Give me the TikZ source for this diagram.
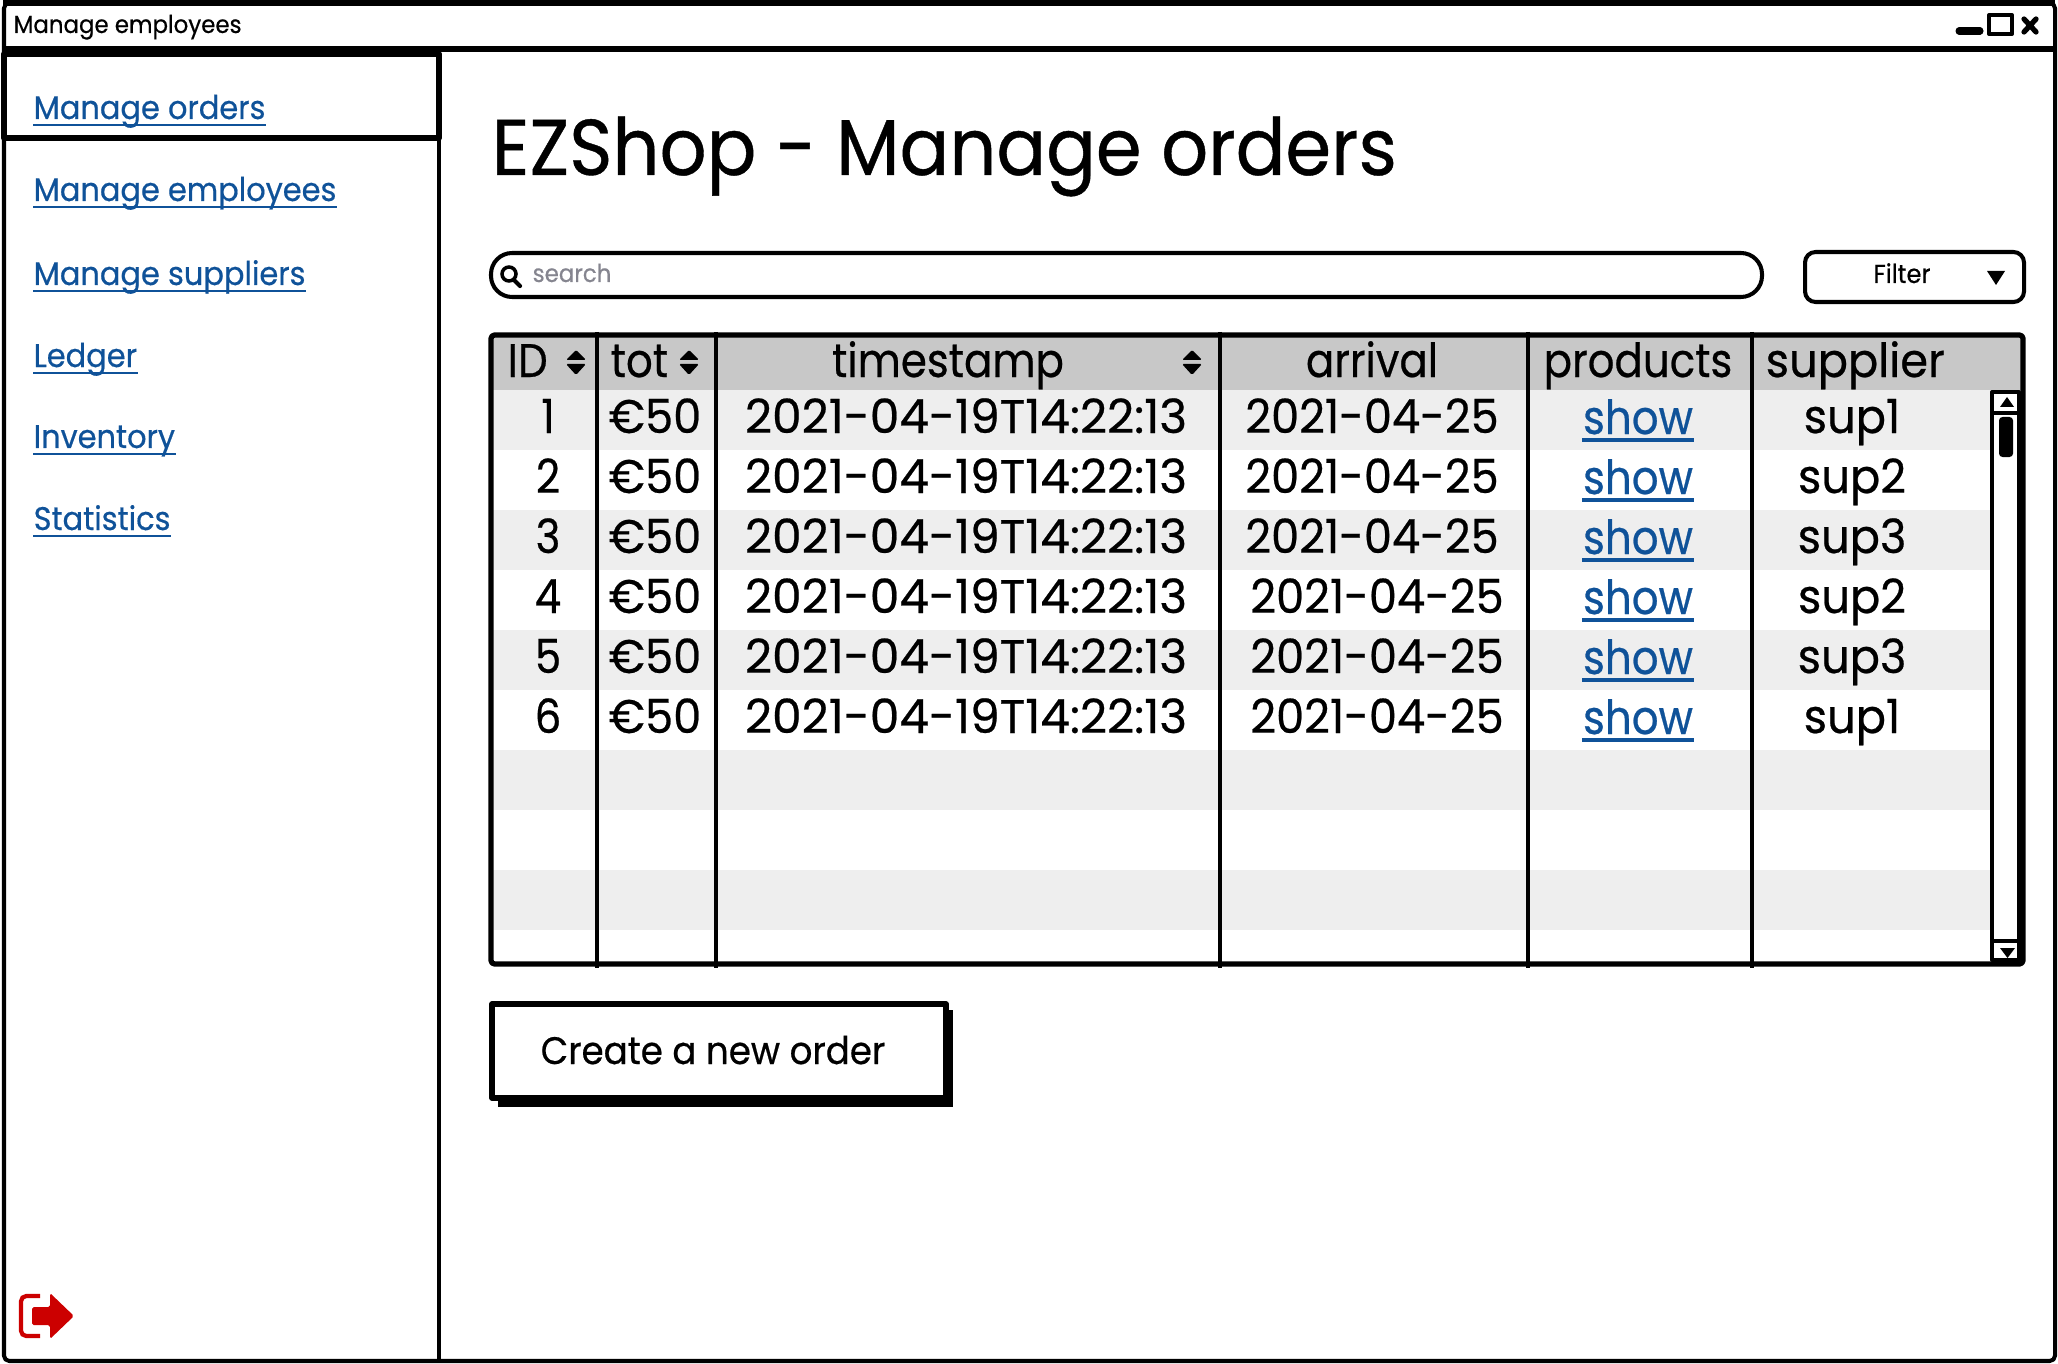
\documentclass[tikz,border=0pt]{standalone}
\usepackage{fontspec}
\usepackage{xcolor}
\setmainfont{Poppins}
\newfontfamily\uifont[FakeStretch=0.93,FakeBold=0.5]{Poppins}
\newfontfamily\cellfont[FakeStretch=0.89,FakeBold=0.5]{Poppins}
\newfontfamily\datefont[FakeStretch=0.95,FakeBold=0.5]{Poppins}
\newfontfamily\stampfont[FakeStretch=1.0,FakeBold=0.5]{Poppins}
\definecolor{linkblue}{HTML}{0F5299}
\definecolor{headg}{HTML}{C8C8C8}
\definecolor{rowg}{HTML}{EEEEEE}
\definecolor{searchg}{HTML}{85858F}
\definecolor{exitred}{HTML}{CC0000}
\tikzset{
  wire/.style={draw=black, line width=1.15pt, line join=round},
  heavy/.style={draw=black, line width=1.5pt, line join=round},
  lbl/.style={inner sep=0pt, anchor=base, text=black},
  cell/.style={lbl, font=\cellfont\fontsize{13.4}{16}\selectfont},
  datecell/.style={lbl, font=\datefont\fontsize{13.4}{16}\selectfont},
  stampcell/.style={lbl, font=\stampfont\fontsize{13.4}{16}\selectfont},
  lnk/.style={lbl, anchor=base west, text=linkblue, font=\uifont\fontsize{9.3}{11}\selectfont},
  showlnk/.style={cell, text=linkblue},
  under/.style={draw=linkblue, line width=0.7pt},
}
\begin{document}
\begin{tikzpicture}[x=0.01cm, y=-0.01cm]
  \useasboundingbox (0,0) rectangle (2058,1364);
  % window
  \fill[white] (0,0) rectangle (2058,1364);
  \draw[wire, rounded corners=1.5pt] (4,3) rectangle (2055,1361);
  \draw[heavy, line width=2pt] (3,2) -- (2055,2);
  \draw[heavy, line width=1.7pt] (3,49) -- (2055,49);
  \node[lbl, anchor=base west, font=\uifont\fontsize{7}{8}\selectfont] (wintitle) at (13,33) {Manage employees};
  \draw[line width=2pt, line cap=round] (1959,31) -- (1980,31);
  \draw[wire] (1989,15) rectangle (2012,34);
  \draw[line width=1.5pt, line cap=round] (2024,19) -- (2036,32) (2036,19) -- (2024,32);
  % side menu
  \draw[wire] (439,49) -- (439,1361);
  \draw[heavy] (4,54) rectangle (439,138);
  \foreach \y/\t/\n in {119/Manage orders/orders, 201/Manage employees/employees, 285/Manage suppliers/suppliers, 367/Ledger/ledger, 448/Inventory/inventory, 530/Statistics/statistics}{
    \node[lnk] (link\n) at (33,\y) {\t};
    \draw[under] ([yshift=-1.7pt]link\n.base west) -- ([yshift=-1.7pt]link\n.base east);
  }
  % exit icon
  \draw[exitred, line width=1.2pt, rounded corners=1.5pt] (40,1296) -- (21,1296) -- (21,1336) -- (40,1336);
  \fill[exitred, rounded corners=0.5pt] (32,1307) -- (50,1307) -- (50,1293) -- (74,1316) -- (50,1339) -- (50,1325) -- (32,1325) -- cycle;
  % title
  \node[lbl, anchor=base west, font=\uifont\fontsize{22.5}{27}\selectfont] (pagetitle) at (491,175) {EZShop - Manage orders};
  % search and filter
  \draw[wire, rounded corners=6pt] (491,253) rectangle (1762,297);
  \draw[line width=1pt] (509,274) circle (7);
  \draw[line width=1.2pt, line cap=round] (514,280) -- (520,286);
  \node[lbl, anchor=base west, text=searchg, font=\uifont\fontsize{7}{8}\selectfont] (searchtxt) at (532,282) {search};
  \draw[wire, rounded corners=3pt] (1805,252) rectangle (2024,302);
  \node[lbl, font=\uifont\fontsize{7.4}{9}\selectfont] (filtertxt) at (1902,283) {Filter};
  \fill (1987,271) -- (2005,271) -- (1996,285) -- cycle;
  % table
  \fill[headg] (491,335) rectangle (2023,390);
  \foreach \r in {0,2,4,6,8}
    \fill[rowg] (491,390+60*\r) rectangle (1992,450+60*\r);
  \draw[heavy, rounded corners=1pt] (491,335) rectangle (2023,964);
  \foreach \x in {597,716,1220,1528,1752}
    \draw[wire] (\x,332) -- (\x,968);
  \foreach \x in {576,689,1192}{
    \fill[rounded corners=0.4pt] (\x-10,360) -- (\x,350) -- (\x+10,360) -- cycle;
    \fill[rounded corners=0.4pt] (\x-10,364) -- (\x,375) -- (\x+10,364) -- cycle;
  }
  \node[cell, anchor=base west] (headid) at (507,377) {ID};
  \node[cell, anchor=base west] (headtot) at (610,377) {tot};
  \node[cell] (headtime) at (948,377) {timestamp};
  \node[cell] (headarr) at (1372,377) {arrival};
  \node[cell] (headprod) at (1638,377) {products};
  \node[datecell, anchor=base west] (headsup) at (1765,377) {supplier};
  \foreach \r/\a/\s in {1/1372/sup1, 2/1372/sup2, 3/1372/sup3, 4/1377/sup2, 5/1377/sup3, 6/1377/sup1}{
    \node[cell] (id\r) at (548,373+60*\r) {\r};
    \node[datecell] (tot\r) at (655,373+60*\r) {€50};
    \node[stampcell] (time\r) at (966,373+60*\r) {2021-04-19T14:22:13};
    \node[datecell] (arr\r) at (\a,373+60*\r) {2021-04-25};
    \node[showlnk] (show\r) at (1638,374+60*\r) {show};
    \draw[under, line width=1pt] ([yshift=-1.7pt]show\r.base west) -- ([yshift=-1.7pt]show\r.base east);
    \node[datecell] (sup\r) at (1852,373+60*\r) {\s};
  }
  % scrollbar
  \draw[wire, fill=white] (1992,392) rectangle (2019,960);
  \draw[wire] (1992,413) -- (2019,413) (1992,941) -- (2019,941);
  \fill (2000,407) -- (2014,407) -- (2007,397) -- cycle;
  \fill[rounded corners=1pt] (1999,417) rectangle (2013,457);
  \fill (2000,948) -- (2015,948) -- (2007.5,958) -- cycle;
  % button
  \fill (498,1010) rectangle (953,1107);
  \draw[heavy, fill=white] (492,1004) rectangle (946,1098);
  \node[lbl, font=\uifont\fontsize{10.9}{13}\selectfont] (newbtn) at (713,1064) {Create a new order};
\end{tikzpicture}
\end{document}
